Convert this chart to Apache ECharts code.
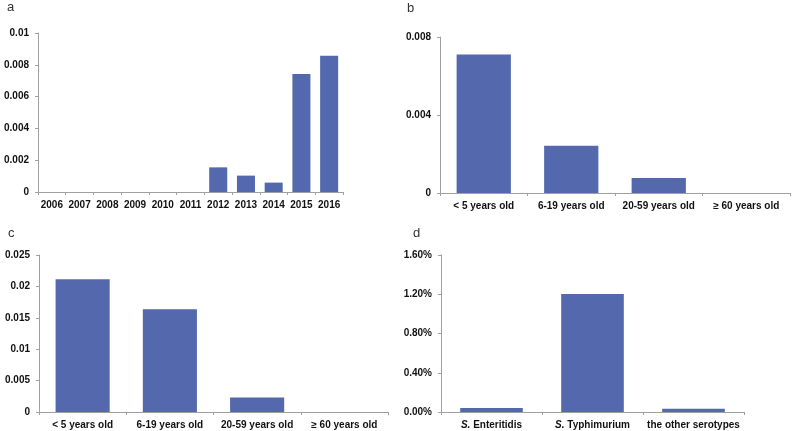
<!DOCTYPE html>
<html>
<head>
<meta charset="utf-8">
<script src="https://cdn.jsdelivr.net/npm/echarts@6/dist/echarts.min.js"></script>
<style>html,body{margin:0;padding:0;background:#fff}#c{width:793px;height:431px}</style>
</head>
<body>
<div id="c"></div>
<script>
const yearsA = ['2006','2007','2008','2009','2010','2011','2012','2013','2014','2015','2016'];
const valuesA = [0,0,0,0,0,0,0.00155,0.00103,0.00059,0.00742,0.00857];
const ageCats = ['< 5 years old','6-19 years old','20-59 years old','≥ 60 years old'];
const valuesB = [0.0071,0.00242,0.00077,0];
const valuesC = [0.02114,0.01637,0.00232,0];
const serotypes = ['S. Enteritidis','S. Typhimurium','the other serotypes'];
const valuesD = [0.00041,0.01203,0.00034];
const panelLabels = ['a','b','c','d'];

const barColor = '#5468ae';
const axisColor = '#a0a0a0';
const font = 'Liberation Sans, Arial, sans-serif';
const chart = echarts.init(document.getElementById('c'));

function xAxis(idx, data, extra) {
  return Object.assign({
    type: 'category', gridIndex: idx, data: data,
    axisLine: {lineStyle: {color: axisColor, width: 1}},
    axisTick: {show: true, alignWithLabel: false, length: 3, lineStyle: {color: axisColor}},
    axisLabel: {color: '#111', fontFamily: font, fontWeight: 'bold', fontSize: 10, margin: 8, interval: 0}
  }, extra || {});
}
function yAxis(idx, max, interval, fmt) {
  return {
    type: 'value', gridIndex: idx, min: 0, max: max, interval: interval,
    axisLine: {show: true, lineStyle: {color: axisColor, width: 1}},
    axisTick: {show: true, length: 3, lineStyle: {color: axisColor}},
    splitLine: {show: false},
    axisLabel: {color: '#111', fontFamily: font, fontWeight: 'bold', fontSize: 10, margin: 9, formatter: fmt}
  };
}
const plainFmt = v => String(parseFloat(v.toPrecision(6)));
const pctFmt = v => (v * 100).toFixed(2) + '%';

chart.setOption({
  animation: false,
  title: [
    {text: panelLabels[0], left: 2, top: -4},
    {text: panelLabels[1], left: 402, top: -3},
    {text: panelLabels[2], left: 3, top: 222},
    {text: panelLabels[3], left: 408, top: 222}
  ].map(t => Object.assign(t, {textStyle: {fontFamily: font, fontWeight: 'normal', fontSize: 13, color: '#333'}})),
  grid: [
    {left: 38, top: 33, right: 450, bottom: 239},
    {left: 440, top: 37, right: 3, bottom: 238},
    {left: 39, top: 255, right: 405, bottom: 19},
    {left: 441, top: 255, right: 49, bottom: 19}
  ],
  xAxis: [
    xAxis(0, yearsA),
    xAxis(1, ageCats),
    xAxis(2, ageCats),
    xAxis(3, serotypes, {axisLabel: {color: '#111', fontFamily: font, fontWeight: 'bold', fontSize: 10, margin: 8, interval: 0,
      formatter: v => v.startsWith('S. ') ? '{i|S.} ' + v.slice(3) : v,
      rich: {i: {fontStyle: 'italic', fontWeight: 'bold', fontFamily: font, fontSize: 10, color: '#111'}}}})
  ],
  yAxis: [
    yAxis(0, 0.01, 0.002, plainFmt),
    yAxis(1, 0.008, 0.004, plainFmt),
    yAxis(2, 0.025, 0.005, plainFmt),
    yAxis(3, 0.016, 0.004, pctFmt)
  ],
  series: [
    {type: 'bar', xAxisIndex: 0, yAxisIndex: 0, data: valuesA, barWidth: '65%', itemStyle: {color: barColor}},
    {type: 'bar', xAxisIndex: 1, yAxisIndex: 1, data: valuesB, barWidth: '62%', itemStyle: {color: barColor}},
    {type: 'bar', xAxisIndex: 2, yAxisIndex: 2, data: valuesC, barWidth: '62%', itemStyle: {color: barColor}},
    {type: 'bar', xAxisIndex: 3, yAxisIndex: 3, data: valuesD, barWidth: '62%', itemStyle: {color: barColor}}
  ]
});
</script>
</body>
</html>
